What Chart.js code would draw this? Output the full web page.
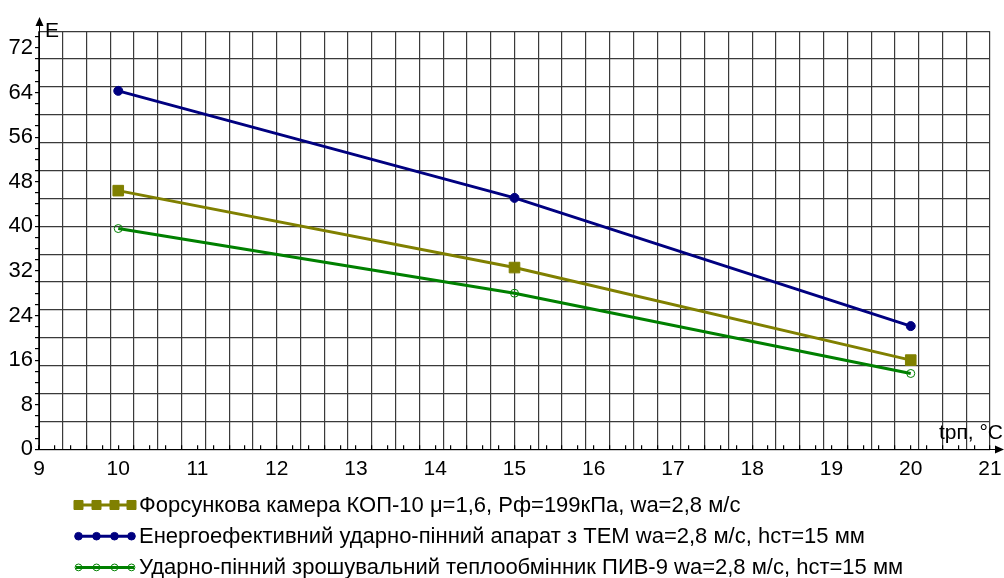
<!DOCTYPE html>
<html><head><meta charset="utf-8">
<script src="https://cdn.jsdelivr.net/npm/chart.js@4.4.1/dist/chart.umd.min.js"></script>
<style>html,body{margin:0;padding:0;background:#fff;}#wrap{width:1004px;height:578px;position:relative;}</style>
</head><body><div id="wrap"><canvas id="c"></canvas></div>
<script>
// ---- data ----
const xValues = [10, 15, 20];
const seriesLabels = [
  'Форсункова камера КОП-10 μ=1,6, Рф=199кПа, wa=2,8 м/с',
  'Енергоефективний ударно-пінний апарат з ТЕМ wa=2,8 м/с, hст=15 мм',
  'Ударно-пінний зрошувальний теплообмінник ПИВ-9 wa=2,8 м/с, hст=15 мм'
];
const forsunkova = [46.4, 32.6, 16.0];
const energo = [64.3, 45.1, 22.1];
const udarno = [39.6, 28.0, 13.6];
const xTickLabels = [9, 10, 11, 12, 13, 14, 15, 16, 17, 18, 19, 20, 21];
const yTickLabels = [0, 8, 16, 24, 32, 40, 48, 56, 64, 72];
const xRange = [9, 21], yRange = [0, 75];
const xGridStep = 0.3, xMinorStep = 0.2;
const yGridStep = 5, yMinorStep = 2;
const yAxisTitle = 'E';
const xAxisTitle = 'tрп, °C';

const FONT = '"Liberation Sans", Arial, sans-serif';
const GRID = '#3a3a3a';
const NONE = 'rgba(0,0,0,0)';

function isMult(v, step, base) { const q = (v - base) / step; return Math.abs(q - Math.round(q)) < 1e-6; }
function buildTicks(min, max, steps) {
  const m = new Map();
  steps.forEach(s => {
    const n = Math.floor((max - min) / s + 1e-6);
    for (let i = 0; i <= n; i++) { const v = +(min + i * s).toFixed(6); m.set(v, true); }
  });
  return [...m.keys()].sort((a, b) => a - b).map(v => ({ value: v }));
}
function hasLabel(list, v) { return list.some(t => Math.abs(t - v) < 1e-6); }

const series = [
  { data: forsunkova, color: '#808000', style: 'rect', radius: 7.5, bg: '#808000', bw: 1 },
  { data: energo, color: '#000080', style: 'circle', radius: 4.5, bg: '#000080', bw: 1 },
  { data: udarno, color: '#008000', style: 'circle', radius: 4, bg: NONE, bw: 1 }
];

const extras = {
  id: 'extras',
  afterDraw(chart) {
    const ctx = chart.ctx, a = chart.chartArea;
    ctx.save();
    ctx.strokeStyle = '#000'; ctx.fillStyle = '#000'; ctx.lineWidth = 1;
    // y axis arrow
    const ax = Math.round(a.left) + 0.5;
    ctx.beginPath(); ctx.moveTo(ax, a.top); ctx.lineTo(ax, 22); ctx.stroke();
    ctx.beginPath(); ctx.moveTo(ax, 17); ctx.lineTo(ax - 4, 26); ctx.lineTo(ax + 4, 26); ctx.closePath(); ctx.fill();
    // x axis arrow
    const ay = Math.round(a.bottom) + 0.5;
    ctx.beginPath(); ctx.moveTo(a.right, ay); ctx.lineTo(998, ay); ctx.stroke();
    ctx.beginPath(); ctx.moveTo(1004, ay); ctx.lineTo(995, ay - 4); ctx.lineTo(995, ay + 4); ctx.closePath(); ctx.fill();
    // axis titles
    ctx.font = '21px ' + FONT; ctx.textBaseline = 'alphabetic';
    ctx.textAlign = 'left'; ctx.fillText(yAxisTitle, 45, 37);
    ctx.textAlign = 'right'; ctx.fillText(xAxisTitle, 1003, 439);
    // legend
    ctx.font = '22px ' + FONT;
    ctx.textAlign = 'left'; ctx.textBaseline = 'middle';
    chart.data.datasets.forEach((ds, i) => {
      const y = 505 + i * 31.2;
      ctx.strokeStyle = ds.borderColor; ctx.lineWidth = 3;
      ctx.beginPath(); ctx.moveTo(76, y); ctx.lineTo(134, y); ctx.stroke();
      [78.5, 96.5, 114.5, 131.5].forEach(px => {
        ctx.fillStyle = ds.pointBackgroundColor; ctx.strokeStyle = ds.pointBorderColor; ctx.lineWidth = 1;
        Chart.helpers.drawPoint(ctx, { pointStyle: ds.pointStyle, radius: ds.pointRadius * (ds.pointStyle === 'rect' ? 0.85 : 0.85), borderWidth: 1, rotation: 0 }, px, y);
      });
      ctx.fillStyle = '#000';
      ctx.fillText(ds.label, 139, y + 1);
    });
    ctx.restore();
  }
};

new Chart(document.getElementById('c'), {
  type: 'line',
  data: {
    datasets: series.map((s, i) => ({
      label: seriesLabels[i],
      data: xValues.map((x, j) => ({ x, y: s.data[j] })),
      borderColor: s.color, borderWidth: 3, fill: false, tension: 0,
      pointStyle: s.style, pointRadius: s.radius, pointBackgroundColor: s.bg,
      pointBorderColor: s.color, pointBorderWidth: s.bw
    }))
  },
  options: {
    responsive: true, maintainAspectRatio: false, animation: false, devicePixelRatio: 1,
    layout: { padding: { left: 0, top: 31.2, right: 14, bottom: 0 } },
    plugins: { legend: { display: false }, tooltip: { enabled: false } },
    scales: {
      x: {
        type: 'linear', min: xRange[0], max: xRange[1],
        afterBuildTicks: s => { s.ticks = buildTicks(xRange[0], xRange[1], [xGridStep, xMinorStep]); },
        afterFit: s => { s.height = 128.7; s.paddingLeft = 0; s.paddingRight = 0; },
        grid: {
          color: c => (c.tick && isMult(c.tick.value, xGridStep, xRange[0])) ? GRID : NONE,
          tickColor: c => (c.tick && isMult(c.tick.value, xMinorStep, xRange[0])) ? '#000' : NONE,
          tickLength: -4, lineWidth: 1.2
        },
        border: { color: '#000', width: 1 },
        ticks: {
          autoSkip: false, maxRotation: 0, minRotation: 0, padding: 11, color: '#000',
          font: { size: 21, family: FONT },
          callback: v => hasLabel(xTickLabels, v) ? String(Math.round(v)) : ''
        }
      },
      y: {
        type: 'linear', min: yRange[0], max: yRange[1],
        afterBuildTicks: s => { s.ticks = buildTicks(yRange[0], yRange[1], [yGridStep, yMinorStep]); },
        afterFit: s => { s.width = 39; s.paddingTop = 0; s.paddingBottom = 0; },
        grid: {
          color: c => (c.tick && isMult(c.tick.value, yGridStep, 0)) ? GRID : NONE,
          tickColor: c => (c.tick && isMult(c.tick.value, yMinorStep, 0)) ? '#000' : NONE,
          tickLength: 4, lineWidth: 1.2
        },
        border: { color: '#000', width: 1 },
        ticks: {
          autoSkip: false, padding: 2, color: '#000',
          font: { size: 22, family: FONT },
          callback: v => hasLabel(yTickLabels, v) ? String(Math.round(v)) : ''
        }
      }
    }
  },
  plugins: [extras]
});
</script>
</body></html>
